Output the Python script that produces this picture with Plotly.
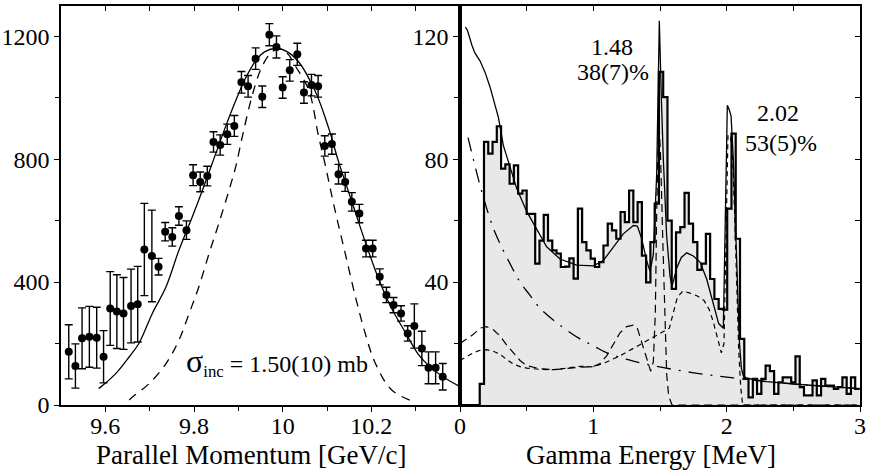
import plotly.graph_objects as go

FONT = "Liberation Serif, Times New Roman, serif"

# ---------------- Left panel: parallel momentum distribution ----------------
p_par = [9.5175, 9.5325, 9.5475, 9.564, 9.5805, 9.596, 9.611, 9.626, 9.641, 9.658,
         9.673, 9.688, 9.705, 9.720, 9.735, 9.751, 9.766, 9.783, 9.798, 9.814,
         9.830, 9.844, 9.859, 9.875, 9.891, 9.907, 9.922, 9.939, 9.954, 9.970,
         9.986, 10.000, 10.016, 10.033, 10.048, 10.065, 10.080, 10.095, 10.111, 10.126,
         10.141, 10.156, 10.173, 10.188, 10.203, 10.219, 10.234, 10.250, 10.267, 10.282,
         10.297, 10.314, 10.329, 10.345, 10.361]
counts = [173, 127, 217, 222, 219, 157, 314, 304, 298, 322,
          328, 506, 485, 450, 564, 547, 615, 569, 748, 726,
          745, 856, 846, 881, 908, 1050, 1037, 1127, 1003, 1205,
          1165, 1033, 1089, 1141, 1017, 1041, 1037, 843, 849, 751,
          726, 661, 623, 509, 509, 417, 358, 325, 298, 233,
          257, 184, 121, 121, 92]
count_err = [88, 72, 99, 99, 99, 85, 120, 120, 117, 120,
             123, 150, 149, 27, 30, 30, 30, 30, 34, 32,
             32, 33, 33, 33, 34, 35, 35, 35, 35, 36,
             36, 35, 35, 36, 35, 35, 35, 33, 33, 32,
             31, 30, 30, 27, 27, 26, 25, 25, 25, 25,
             72, 56, 52, 52, 43]

fit_x = [9.585, 9.590, 9.624, 9.654, 9.676, 9.706, 9.737, 9.766, 9.796, 9.819,
         9.849, 9.871, 9.894, 9.915, 9.939, 9.960, 9.986, 10.010, 10.036, 10.074,
         10.104, 10.126, 10.156, 10.186, 10.216, 10.246, 10.276, 10.306, 10.336, 10.366, 10.400]
fit_y = [54, 59, 103, 157, 201, 298, 385, 504, 612, 699,
         818, 905, 990, 1060, 1120, 1150, 1160, 1150, 1117, 1019,
         900, 792, 662, 532, 412, 314, 238, 165, 120, 88, 60]

narrow_x = [9.654, 9.658, 9.699, 9.737, 9.766, 9.789, 9.811, 9.834, 9.856, 9.879,
            9.894, 9.910, 9.930, 9.950, 9.970, 9.990, 10.010, 10.030, 10.059, 10.081,
            10.095, 10.118, 10.141, 10.164, 10.186, 10.209, 10.246, 10.300]
narrow_y = [16, 22, 70, 135, 211, 298, 385, 493, 591, 699,
            775, 880, 1000, 1090, 1140, 1160, 1145, 1100, 1024, 874,
            788, 634, 494, 353, 234, 136, 49, 8]

# ---------------- Right panel: gamma spectrum ----------------
bin_lo = 0.148
bin_w = 0.032
gamma_counts = [6.9, 85.6, 81.8, 85.6, 90.7, 76.9, 78.3, 72.0, 78.0, 68.8,
                69.8, 62.2, 62.2, 46.0, 53.5, 61.9, 53.5, 50.3, 49.3, 44.9,
                45.0, 47.7, 41.1, 63.9, 53.0, 50.3, 47.6, 44.9, 46.5, 51.9,
                59.0, 56.8, 54.1, 62.8, 59.5, 69.8, 59.5, 66.0, 48.6, 39.9,
                53.0, 65.5, 108.4, 100.2, 60.0, 37.8, 56.2, 57.9, 69.0, 59.0,
                53.0, 44.0, 46.0, 55.7, 41.0, 34.5, 31.3, 31.0, 63.9, 88.3,
                54.1, 21.5, 8.5, 2.5, 8.5, 3.6, 8.5, 12.8, 11.0, 3.6,
                7.4, 9.0, 9.0, 7.4, 15.8, 5.8, 3.1, 3.1, 8.0, 3.1,
                8.5, 6.3, 6.3, 5.2, 5.8, 9.0, 3.6, 9.0, 5.2]

total_x = [0.04, 0.055, 0.09, 0.1125, 0.15, 0.19, 0.225, 0.26, 0.2875, 0.325,
           0.375, 0.425, 0.5, 0.575, 0.65, 0.75, 0.875, 1.0, 1.075, 1.15,
           1.225, 1.3, 1.33, 1.36, 1.4, 1.425, 1.45, 1.475, 1.495, 1.51,
           1.525, 1.55, 1.575, 1.59, 1.625, 1.66, 1.7, 1.75, 1.8, 1.85,
           1.9, 1.94, 1.975, 1.99, 2.005, 2.02, 2.033, 2.05, 2.075, 2.095,
           2.11, 2.125, 2.15, 2.3, 2.6, 3.0]
total_y = [123, 122, 117, 114.5, 112, 108, 103.5, 97.5, 93.7, 84.5,
           77.4, 70.5, 63, 57, 51.5, 47.5, 45.5, 45.3, 47, 51.4,
           55.7, 58.4, 58.2, 54.5, 47, 43.5, 49, 75, 125, 100,
           80, 55, 42, 38.5, 44.5, 48, 49.5, 48.5, 46.5, 41,
           33, 26.5, 25, 60, 97.5, 96, 94, 80, 47, 21,
           12, 9.5, 8.7, 7.6, 6.5, 5.3]

bg_x = [0.06, 0.1, 0.15, 0.2, 0.25, 0.3, 0.375, 0.45, 0.52, 0.6,
        0.74, 0.9, 1.0, 1.09, 1.2, 1.3, 1.45, 1.65, 1.86, 2.05,
        2.3, 2.6, 3.0]
bg_y = [87, 80, 71.5, 64, 57.5, 52.5, 46, 40, 36, 31.5,
        26.3, 21.5, 19.3, 17.2, 15.5, 14.3, 12.8, 11.2, 9.8, 8.8,
        7.6, 6.5, 5.3]

line148_x = [0.0, 0.05, 0.1, 0.15, 0.2, 0.25, 0.3, 0.35, 0.4, 0.45,
             0.5, 0.6, 0.7, 0.8, 0.9, 1.0, 1.05, 1.1, 1.15, 1.2,
             1.25, 1.3, 1.33, 1.36, 1.4, 1.43, 1.45, 1.465, 1.475, 1.487,
             1.495, 1.505, 1.52, 1.535, 1.55, 1.565, 1.59, 3.0]
line148_y = [20, 21.5, 23, 25, 25.5, 24.5, 22.5, 19.5, 17, 14.5,
             12.8, 11.8, 11.5, 12, 12.3, 12.5, 13.5, 16, 20, 23.5,
             25.5, 26, 25, 21, 15, 11, 14, 30, 62, 88,
             90, 80, 55, 28, 10, 3, 0, 0]

line202_x = [0.0, 0.05, 0.1, 0.15, 0.2, 0.25, 0.3, 0.35, 0.4, 0.45,
             0.5, 0.6, 0.7, 0.8, 0.9, 1.0, 1.1, 1.2, 1.3, 1.4,
             1.5, 1.57, 1.6, 1.63, 1.67, 1.72, 1.78, 1.83, 1.87, 1.9,
             1.93, 1.96, 1.98, 1.99, 2.0, 2.01, 2.03, 2.045, 2.06, 2.075,
             2.09, 2.105, 2.12, 3.0]
line202_y = [14.5, 15.8, 17, 17.8, 18, 17.5, 16.5, 14.8, 13.3, 12.5,
             12, 11.6, 11.5, 12, 12.6, 12.4, 14, 16, 18.5, 21,
             23.5, 25, 30, 35, 37, 36.5, 35.5, 34, 31, 27,
             22, 17, 20, 45, 75, 88, 87, 80, 62, 38,
             18, 6, 0, 0]

# histogram step outline built from the bin layout
edges = [0.0] + [bin_lo + bin_w * k for k in range(len(gamma_counts) + 1)]
hist_vals = [0.0] + gamma_counts
hist_y = hist_vals + [hist_vals[-1]]

fig = go.Figure()

# left panel traces
fig.add_trace(go.Scatter(x=fit_x, y=fit_y, mode="lines", line=dict(color="black", width=1.3, shape="spline"),
                         xaxis="x", yaxis="y", hoverinfo="skip"))
fig.add_trace(go.Scatter(x=narrow_x, y=narrow_y, mode="lines",
                         line=dict(color="black", width=1.3, dash="9px,7px", shape="spline"),
                         xaxis="x", yaxis="y", hoverinfo="skip"))
fig.add_trace(go.Scatter(x=p_par, y=counts, mode="markers",
                         marker=dict(color="black", size=8),
                         error_y=dict(type="data", array=count_err, color="black", thickness=1.4, width=4),
                         xaxis="x", yaxis="y"))

# right panel traces
fig.add_trace(go.Scatter(x=edges, y=hist_y, mode="lines", line=dict(color="black", width=2.2, shape="hv"),
                         fill="tozeroy", fillcolor="#e8e8e8", xaxis="x2", yaxis="y2", hoverinfo="skip"))
fig.add_trace(go.Scatter(x=bg_x, y=bg_y, mode="lines",
                         line=dict(color="black", width=1.3, dash="14px,8px,2px,8px", shape="spline"),
                         xaxis="x2", yaxis="y2", hoverinfo="skip"))
fig.add_trace(go.Scatter(x=line148_x, y=line148_y, mode="lines",
                         line=dict(color="black", width=1.2, dash="8px,5px"),
                         xaxis="x2", yaxis="y2", hoverinfo="skip"))
fig.add_trace(go.Scatter(x=line202_x, y=line202_y, mode="lines",
                         line=dict(color="black", width=1.2, dash="5px,4px"),
                         xaxis="x2", yaxis="y2", hoverinfo="skip"))
fig.add_trace(go.Scatter(x=total_x, y=total_y, mode="lines", line=dict(color="black", width=1.3),
                         xaxis="x2", yaxis="y2", hoverinfo="skip"))

# invisible traces to anchor the inner-tick overlay axes
fig.add_trace(go.Scatter(x=[None], y=[None], xaxis="x3", yaxis="y", showlegend=False, hoverinfo="skip"))
fig.add_trace(go.Scatter(x=[None], y=[None], xaxis="x4", yaxis="y3", showlegend=False, hoverinfo="skip"))

XL = [61 / 870, 460 / 870]
XR = [460 / 870, 860 / 870]
YD = [(472 - 405) / 472, (472 - 5.5) / 472]

axis_common = dict(showgrid=False, zeroline=False, showline=True, linecolor="black", linewidth=1.5,
                   mirror=True, ticks="outside", ticklen=5, tickwidth=1.3, tickcolor="black",
                   automargin=False,
                   tickfont=dict(family=FONT, size=24, color="black"))
overlay_common = dict(ticks="inside", ticklen=5, tickcolor="black", tickwidth=1.3,
                      showticklabels=False, showline=False, showgrid=False, zeroline=False,
                      automargin=False)

fig.update_layout(
    template="none",
    width=870, height=472,
    margin=dict(l=0, r=0, t=0, b=0, pad=0),
    paper_bgcolor="white", plot_bgcolor="white",
    showlegend=False,
    font=dict(family=FONT, color="black"),
    xaxis=dict(domain=XL, range=[9.5, 10.4], anchor="y",
               tickvals=[9.6, 9.8, 10, 10.2], ticktext=["9.6", "9.8", "10", "10.2"],
               minor=dict(tickvals=[9.7, 9.9, 10.1, 10.3], ticklen=4, ticks="outside", tickcolor="black"),
               ticklabelstandoff=-7,
               **axis_common),
    yaxis=dict(domain=YD, range=[0, 1300], anchor="x",
               tickvals=[0, 400, 800, 1200],
               minor=dict(tickvals=[200, 600, 1000], ticklen=4, ticks="outside", tickcolor="black"),
               **axis_common),
    xaxis2=dict(domain=XR, range=[0, 3], anchor="y2",
                tickvals=[0, 1, 2, 3],
                minor=dict(tickvals=[0.5, 1.5, 2.5], ticklen=4, ticks="outside", tickcolor="black"),
                ticklabelstandoff=-7,
                **axis_common),
    yaxis2=dict(domain=YD, range=[0, 130], anchor="x2",
                tickvals=[40, 80, 120],
                minor=dict(tickvals=[20, 60, 100], ticklen=4, ticks="outside", tickcolor="black"),
                **axis_common),
    xaxis3=dict(overlaying="x", side="top", anchor="y", range=[9.5, 10.4],
                tickvals=[9.6, 9.7, 9.8, 9.9, 10.0, 10.1, 10.2, 10.3], **overlay_common),
    xaxis4=dict(overlaying="x2", side="top", anchor="y3", range=[0, 3],
                tickvals=[0.5, 1, 1.5, 2, 2.5], **overlay_common),
    yaxis3=dict(overlaying="y2", side="right", anchor="x4", range=[0, 130],
                tickvals=[20, 40, 60, 80, 100, 120], **overlay_common),
)

ann_font = dict(family=FONT, size=24, color="black")
fig.add_annotation(text="Parallel Momentum [GeV/c]", xref="paper", yref="paper",
                   x=251 / 870, y=(472 - 455) / 472, xanchor="center", yanchor="middle",
                   showarrow=False, font=dict(family=FONT, size=27, color="black"))
fig.add_annotation(text="Gamma Energy [MeV]", xref="paper", yref="paper",
                   x=651 / 870, y=(472 - 455) / 472, xanchor="center", yanchor="middle",
                   showarrow=False, font=dict(family=FONT, size=27, color="black"))
fig.add_annotation(text="<span style='font-size:32px'>σ</span><sub>inc</sub> = 1.50(10) mb",
                   xref="paper", yref="paper", x=184 / 870, y=(472 - 362) / 472,
                   xanchor="left", yanchor="middle", showarrow=False, font=ann_font)
fig.add_annotation(text="1.48", xref="paper", yref="paper", x=612 / 870, y=(472 - 47) / 472,
                   xanchor="center", yanchor="middle", showarrow=False, font=ann_font)
fig.add_annotation(text="38(7)%", xref="paper", yref="paper", x=613 / 870, y=(472 - 72) / 472,
                   xanchor="center", yanchor="middle", showarrow=False, font=ann_font)
fig.add_annotation(text="2.02", xref="paper", yref="paper", x=778 / 870, y=(472 - 113) / 472,
                   xanchor="center", yanchor="middle", showarrow=False, font=ann_font)
fig.add_annotation(text="53(5)%", xref="paper", yref="paper", x=781 / 870, y=(472 - 143) / 472,
                   xanchor="center", yanchor="middle", showarrow=False, font=ann_font)

fig.write_html("out.html", config={"displayModeBar": False},
               post_script="document.body.style.margin='0';document.body.style.overflow='hidden';")
